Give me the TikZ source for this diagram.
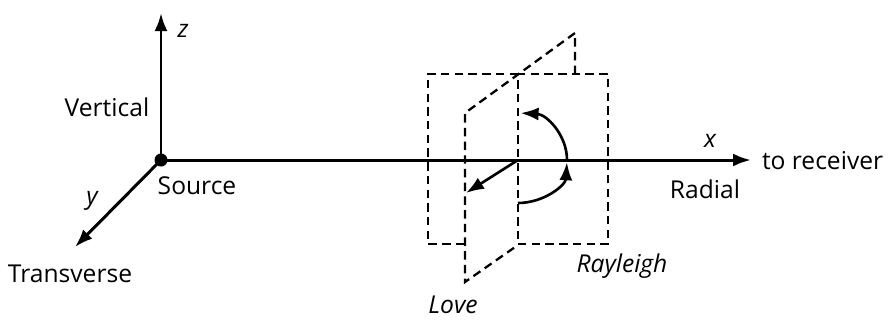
\documentclass[tikz,border=0pt]{standalone}
\usepackage{fontspec}
\setmainfont{Open Sans}
\usetikzlibrary{arrows.meta}
\begin{document}
\begin{tikzpicture}[x=0.02cm,y=-0.02cm,every node/.style={inner sep=0pt, outer sep=0pt, font=\fontsize{14}{16}\selectfont},
  axis/.style={line width=1.7pt,-{Latex[length=0.36cm,width=0.26cm]}},
  plane/.style={line width=1.3pt,dash pattern=on 4.8pt off 3pt}]
\useasboundingbox (0,0) rectangle (889,322);
\coordinate (src) at (161,160);
\coordinate (ztip) at (161,13);
\coordinate (ytip) at (75,247);
\coordinate (xtip) at (751,160);
\coordinate (mid) at (518,160);
% Rayleigh plane
\draw[plane] (518,74) -- (428,74) -- (428,244) -- (465,244);
\draw[plane] (518,244) -- (608,244) -- (608,74) -- (518,74) -- (518,244);
% Love plane
\draw[plane] (575,74) -- (575,33) -- (465,113) -- (465,282) -- (518,245);
% axes
\draw[axis] (src) -- (ztip);
\draw[axis] (src) -- (ytip);
\draw[axis] (src) -- (xtip);
\fill (src) circle (6.5);
% particle motion
\draw[axis,line width=1.5pt] (mid) -- (466,193);
\draw[axis,line width=1.5pt] (518,203) arc[start angle=90,end angle=3,x radius=49,y radius=43];
\draw[axis,line width=1.5pt] (567,160) arc[start angle=0,end angle=-87,x radius=49,y radius=47];
% labels
\node (zlab) at (183,31) {\itshape z};
\node (vert) at (107,107) {Vertical};
\node (source) at (197,186) {Source};
\node (ylab) at (92,201) {\itshape y};
\node (trans) at (70,274) {Transverse};
\node (xlab) at (710,141) {\itshape x};
\node[anchor=west] (recv) at (762,161) {to receiver};
\node (radial) at (705,189) {Radial};
\node (rayl) at (622,266) {\itshape Rayleigh};
\node (love) at (453,305) {\itshape Love};
\end{tikzpicture}
\end{document}
